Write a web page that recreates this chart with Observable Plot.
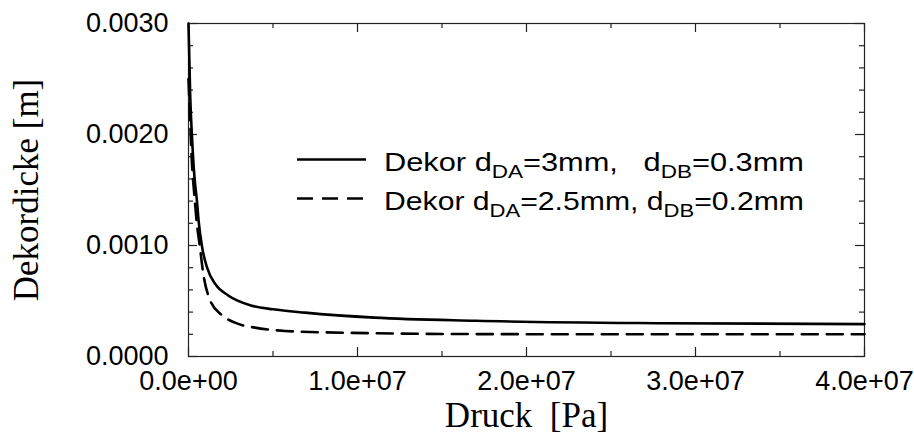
<!DOCTYPE html>
<html>
<head>
<meta charset="utf-8">
<script src="https://cdn.jsdelivr.net/npm/d3@7"></script>
<script src="https://cdn.jsdelivr.net/npm/@observablehq/plot@0.6"></script>
<style>
  body { margin: 0; background: #fff; }
  #wrap { position: relative; width: 914px; height: 435px; }
  #wrap svg { position: absolute; left: 0; top: 0; }
</style>
</head>
<body>
<div id="wrap"></div>
<script>
// ---- data ----
const pressureSolid = [0, 1e5, 2e5, 3.5e5, 5e5, 6e5, 8e5, 1.1e6, 1.6e6, 2.35e6, 3.7e6, 5e6, 6.9e6, 1.1e7, 1.7e7, 2.8e7, 4e7];
const thicknessSolid = [0.0030, 0.00235, 0.00200, 0.00162, 0.00140, 0.00122, 0.00099, 0.00080, 0.00065, 0.00055, 0.00046, 0.000425, 0.000395, 0.00035, 0.000322, 0.000300, 0.000292];
const pressureDashed = [0, 1e5, 2e5, 3.5e5, 4.8e5, 6.8e5, 8.8e5, 1.27e6, 1.96e6, 2.75e6, 3.93e6, 4.9e6, 5.7e6, 1.08e7, 1.67e7, 2.8e7, 4e7];
const thicknessDashed = [0.0025, 0.0021, 0.00175, 0.00145, 0.00122, 0.00098, 0.00074, 0.00051, 0.000374, 0.000305, 0.00026, 0.00024, 0.00023, 0.00021, 0.000202, 0.0002, 0.0002];

const xMajorTicks = [0, 1e7, 2e7, 3e7, 4e7];
const xTickLabels = ["0.0e+00", "1.0e+07", "2.0e+07", "3.0e+07", "4.0e+07"];
const xMinorTicks = [5e6, 1.5e7, 2.5e7, 3.5e7];
const yMajorTicks = [0, 0.001, 0.002, 0.003];
const yTickLabels = ["0.0000", "0.0010", "0.0020", "0.0030"];
const yMinorTicks = [0.0002, 0.0004, 0.0006, 0.0008, 0.0012, 0.0014, 0.0016, 0.0018, 0.0022, 0.0024, 0.0026, 0.0028];

const xTitle = "Druck\u00a0 [Pa]";
const yTitle = "Dekordicke [m]";

const solid = pressureSolid.map((p, i) => ({p, d: thicknessSolid[i]}));
const dashed = pressureDashed.map((p, i) => ({p, d: thicknessDashed[i]}));

const sans = "'Liberation Sans', Arial, Helvetica, sans-serif";
const serif = "'Liberation Serif', 'Times New Roman', serif";

const W = 914, H = 435, mL = 188, mR = 50, mT = 23, mB = 79;
const frameW = W - mL - mR, frameH = H - mT - mB;
const major = 9, minor = 5;
const tickStyle = {stroke: "#222", strokeWidth: 1.2};

const chart = Plot.plot({
  width: W,
  height: H,
  marginLeft: mL,
  marginRight: mR,
  marginTop: mT,
  marginBottom: mB,
  x: {domain: [0, 4e7], axis: null},
  y: {domain: [0, 0.003], axis: null},
  marks: [
    // inward ticks on all four sides
    Plot.tickX(xMajorTicks, {x: d => d, insetTop: frameH - major, ...tickStyle}),
    Plot.tickX(xMinorTicks, {x: d => d, insetTop: frameH - minor, ...tickStyle}),
    Plot.tickX(xMajorTicks, {x: d => d, insetBottom: frameH - major, ...tickStyle}),
    Plot.tickX(xMinorTicks, {x: d => d, insetBottom: frameH - minor, ...tickStyle}),
    Plot.tickY(yMajorTicks, {y: d => d, insetRight: frameW - major, ...tickStyle}),
    Plot.tickY(yMinorTicks, {y: d => d, insetRight: frameW - minor, ...tickStyle}),
    Plot.tickY(yMajorTicks, {y: d => d, insetLeft: frameW - major, ...tickStyle}),
    Plot.tickY(yMinorTicks, {y: d => d, insetLeft: frameW - minor, ...tickStyle}),
    Plot.frame({stroke: "#222", strokeWidth: 1.2}),
    // tick labels
    Plot.axisX(xMajorTicks, {anchor: "bottom", tickSize: 0, tickPadding: 14, label: null,
      tickFormat: d => xTickLabels[xMajorTicks.indexOf(d)], fontSize: 27, fontFamily: sans, fill: "#000"}),
    Plot.axisY(yMajorTicks, {anchor: "left", tickSize: 0, tickPadding: 20, label: null,
      tickFormat: d => yTickLabels[yMajorTicks.indexOf(d)], fontSize: 27, fontFamily: sans, fill: "#000"}),
    // curves
    Plot.line(solid, {x: "p", y: "d", curve: "monotone-x", stroke: "#000", strokeWidth: 2.6}),
    Plot.line(dashed, {x: "p", y: "d", curve: "monotone-x", stroke: "#000", strokeWidth: 2.6, strokeDasharray: "16,9"}),
    // axis titles
    Plot.text([xTitle], {frameAnchor: "bottom", dy: 70, text: d => d, fontFamily: serif, fontSize: 35, fill: "#000", textAnchor: "middle"}),
    Plot.text([yTitle], {frameAnchor: "left", dx: -162, rotate: -90, text: d => d, fontFamily: serif, fontSize: 35, fill: "#000", textAnchor: "middle"})
  ]
});

const wrap = document.getElementById("wrap");
wrap.appendChild(chart);

// legend overlay
const legend = d3.select(wrap).append("svg")
  .attr("width", W).attr("height", H)
  .style("pointer-events", "none");

const legendItems = [
  {dash: null, y: 159.5, base: 170.5, a: "=3mm,\u00a0\u00a0 d", b: "=0.3mm"},
  {dash: "16,9", y: 198.5, base: 209.5, a: "=2.5mm, d", b: "=0.2mm"}
];
legendItems.forEach(it => {
  legend.append("line")
    .attr("x1", 297).attr("x2", 366).attr("y1", it.y).attr("y2", it.y)
    .attr("stroke", "#000").attr("stroke-width", 2.6)
    .attr("stroke-dasharray", it.dash);
  const t = legend.append("text")
    .attr("x", 384).attr("y", it.base)
    .attr("font-family", sans).attr("font-size", 26).attr("fill", "#000")
    .attr("textLength", 420).attr("lengthAdjust", "spacingAndGlyphs");
  t.append("tspan").text("Dekor d");
  t.append("tspan").attr("dy", 7).attr("font-size", 19).text("DA");
  t.append("tspan").attr("dy", -7).text(it.a);
  t.append("tspan").attr("dy", 7).attr("font-size", 19).text("DB");
  t.append("tspan").attr("dy", -7).text(it.b);
});
</script>
</body>
</html>
